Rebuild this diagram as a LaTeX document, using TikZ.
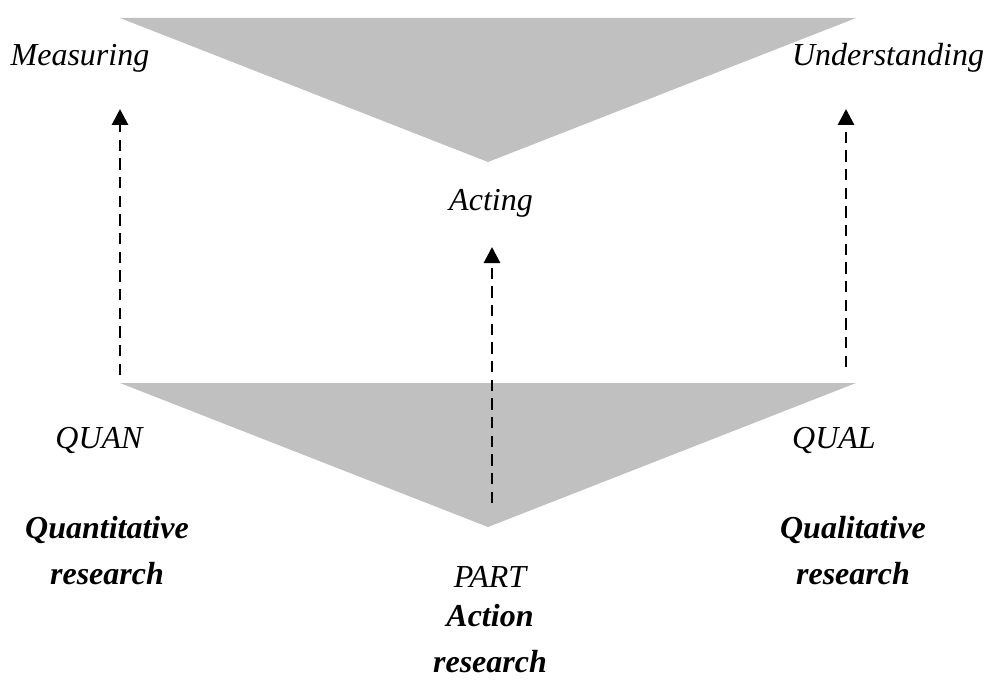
\documentclass[tikz,border=0pt]{standalone}
\usepackage{fontspec}
\setmainfont{Liberation Serif}
\usetikzlibrary{arrows.meta}
\definecolor{tri}{HTML}{C0C0C0}
\tikzset{
  lbl/.style={font=\fontsize{24}{34.5}\selectfont\itshape, inner sep=0pt, align=center},
  blbl/.style={font=\fontsize{24}{34.5}\selectfont\bfseries\itshape, inner sep=0pt, align=center},
  darr/.style={line width=2.2pt, dash pattern=on 8.5pt off 5.5pt, -{Triangle[width=12pt,length=12pt]}},
  wedge/.style={fill=tri, draw=none}
}
\begin{document}
\begin{tikzpicture}[x=0.75pt,y=-0.75pt]
\useasboundingbox (0,0) rectangle (999,681);
% triangles
\fill[wedge] (120,18) -- (856,18) -- (488,162) -- cycle;
\fill[wedge] (120,383) -- (856,383) -- (488,527) -- cycle;
% labels
\node[lbl] (meas) at (80,58) {Measuring};
\node[lbl] (und) at (888,58) {Understanding};
\node[lbl] (act) at (491,203) {Acting};
\node[lbl] (quan) at (99,440) {QUAN};
\node[lbl] (qual) at (834,440) {QUAL};
\node[lbl] (part) at (490,577) {PART};
\node[blbl] (qres) at (107,551) {Quantitative\\research};
\node[blbl] (qlres) at (853,551) {Qualitative\\research};
\node[blbl] (ares) at (490,639) {Action\\research};
% arrow ends
\coordinate (l0) at (120,375);
\coordinate (l1) at (120,109);
\coordinate (r0) at (846,367);
\coordinate (r1) at (846,109);
\coordinate (m0) at (492,503);
\coordinate (m1) at (492,247);
\draw[darr] (l0) -- (l1);
\draw[darr] (r0) -- (r1);
\draw[darr] (m0) -- (m1);
\end{tikzpicture}
\end{document}
